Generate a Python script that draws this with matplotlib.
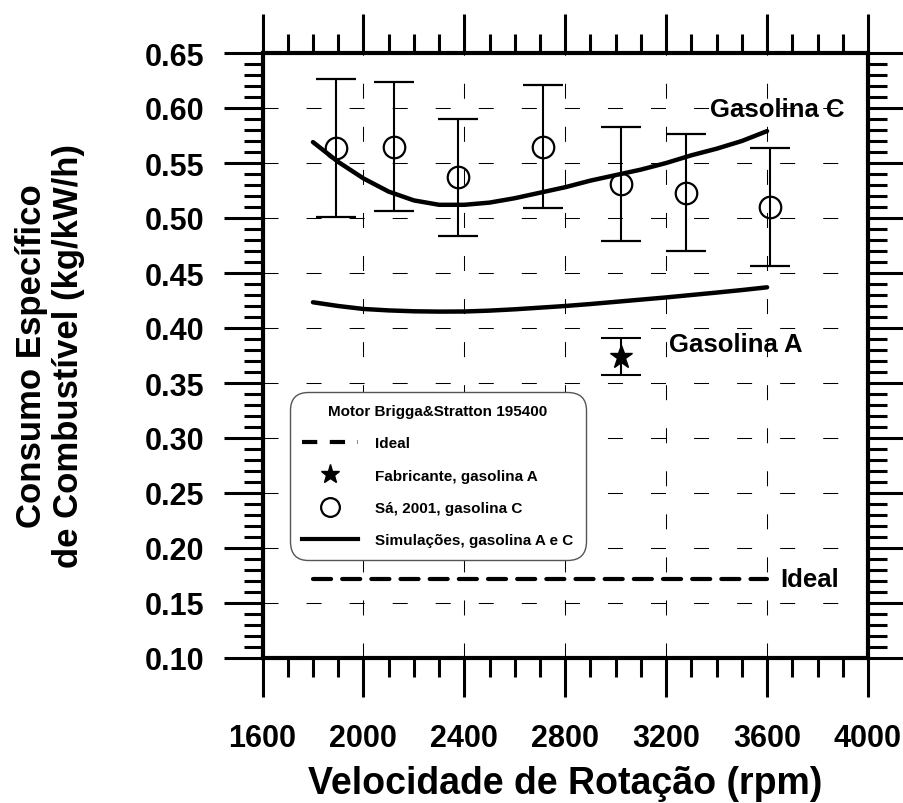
import matplotlib
matplotlib.use("Agg")
import matplotlib.pyplot as plt
from matplotlib.lines import Line2D
from matplotlib.ticker import MultipleLocator, FormatStrFormatter

plt.rcParams['font.family'] = ['Liberation Sans', 'DejaVu Sans']
plt.rcParams['font.weight'] = 'bold'
plt.rcParams['lines.scale_dashes'] = False

# ---------------- data ----------------
sim_rpm = [1800, 1900, 2000, 2100, 2200, 2300, 2400, 2500, 2600, 2700,
           2800, 2900, 3000, 3100, 3200, 3300, 3400, 3500, 3600]
sim_gas_c = [0.569, 0.551, 0.536, 0.524, 0.516, 0.512, 0.512, 0.514, 0.518, 0.523,
             0.528, 0.534, 0.539, 0.544, 0.550, 0.557, 0.563, 0.570, 0.579]
sim_gas_a = [0.4234, 0.4200, 0.4173, 0.4160, 0.4152, 0.4149, 0.4150, 0.4158, 0.4170, 0.4185,
             0.4200, 0.4218, 0.4238, 0.4258, 0.4278, 0.4300, 0.4322, 0.4345, 0.4370]

sa_rpm = [1890, 2120, 2375, 2710, 3020, 3280, 3610]
sa_val = [0.564, 0.565, 0.537, 0.565, 0.531, 0.523, 0.510]
sa_upper = [0.626, 0.624, 0.590, 0.621, 0.583, 0.576, 0.564]
sa_lower = [0.501, 0.506, 0.484, 0.509, 0.479, 0.470, 0.456]

fab_rpm = [3020]
fab_val = [0.374]
fab_upper = [0.391]
fab_lower = [0.357]

ideal_rpm = [1800, 3600]
ideal_val = [0.172, 0.172]

x_ticks = [1600, 2000, 2400, 2800, 3200, 3600, 4000]
y_ticks = [0.10, 0.15, 0.20, 0.25, 0.30, 0.35, 0.40, 0.45, 0.50, 0.55, 0.60, 0.65]

legend_title = "Motor Brigga&Stratton 195400"
legend_labels = ["Ideal", "Fabricante, gasolina A", "Sá, 2001, gasolina C",
                 "Simulações, gasolina A e C"]
xlabel = "Velocidade de Rotação (rpm)"
ylabel = "Consumo Específico\nde Combustível (kg/kW/h)"

# ---------------- figure ----------------
W, H = 904, 804
fig = plt.figure(figsize=(W / 100, H / 100), dpi=100)
ax = fig.add_axes([262.5 / W, (H - 659) / H, 605.5 / W, 605 / H])

ax.set_xlim(1600, 4000)
ax.set_ylim(0.10, 0.65)

# grid
ax.set_xticks(x_ticks)
ax.set_yticks(y_ticks)
ax.grid(True, which='major', color='black', linewidth=0.75,
        linestyle=(0, (10.8, 20.2)))
ax.set_axisbelow(True)

# simulations
ax.plot(sim_rpm, sim_gas_c, color='black', lw=3.2, solid_capstyle='round', zorder=3)
ax.plot(sim_rpm, sim_gas_a, color='black', lw=3.2, solid_capstyle='round', zorder=3)

# ideal
ax.plot(ideal_rpm, ideal_val, color='black', lw=3.0,
        linestyle=(0, (13, 8)), dash_capstyle='round', zorder=3)

# Sá 2001
sa_err = [[v - l for v, l in zip(sa_val, sa_lower)],
          [u - v for v, u in zip(sa_val, sa_upper)]]
ax.errorbar(sa_rpm, sa_val, yerr=sa_err, fmt='o', mfc='none', mec='black',
            mew=1.6, ms=15.5, ecolor='black', elinewidth=1.5, capsize=14.5,
            capthick=1.5, zorder=4)

# Fabricante
fab_err = [[v - l for v, l in zip(fab_val, fab_lower)],
           [u - v for v, u in zip(fab_val, fab_upper)]]
ax.errorbar(fab_rpm, fab_val, yerr=fab_err, fmt='*', color='black', ms=17,
            ecolor='black', elinewidth=1.5, capsize=14.5, capthick=1.5, zorder=4)

# curve labels
ax.text(3641, 0.5927, "Gasolina C", fontsize=18.5, fontweight='bold',
        ha='center', va='baseline', zorder=5)
ax.text(3477, 0.379, "Gasolina A", fontsize=18.5, fontweight='bold',
        ha='center', va='baseline', zorder=5)
ax.text(3767, 0.1655, "Ideal", fontsize=18.5, fontweight='bold',
        ha='center', va='baseline', zorder=5)

# ticks
ax.xaxis.set_minor_locator(MultipleLocator(100))
ax.yaxis.set_minor_locator(MultipleLocator(0.01))
ax.yaxis.set_major_formatter(FormatStrFormatter('%.2f'))
ax.tick_params(which='major', direction='out', length=28, width=2.2,
               top=True, right=True, labelsize=22, color='black')
ax.tick_params(which='minor', direction='out', length=14, width=2.2,
               top=True, right=True, color='black')
ax.tick_params(axis='x', which='major', pad=19)
ax.tick_params(axis='y', which='major', pad=14)
for lab in ax.get_xticklabels() + ax.get_yticklabels():
    lab.set_fontweight('bold')
for sp in ax.spines.values():
    sp.set_linewidth(3)

# axis labels
ax.set_xlabel(xlabel, fontsize=27, fontweight='bold')
ax.xaxis.set_label_coords(0.5, (659 - 766) / 605)
ax.set_ylabel(ylabel, fontsize=25, fontweight='bold', linespacing=1.15)
ax.yaxis.set_label_coords((85 - 262.5) / 605.5, 0.5)

# legend
handles = [
    Line2D([], [], color='black', lw=3.0, linestyle=(0, (11, 9))),
    Line2D([], [], color='black', marker='*', ms=14, linestyle='none'),
    Line2D([], [], color='black', marker='o', ms=13.5, mfc='none', mew=1.6,
           linestyle='none'),
    Line2D([], [], color='black', lw=3.0),
]
leg = ax.legend(handles, legend_labels, title=legend_title,
                loc='upper left', bbox_to_anchor=(0.045, 0.44),
                borderaxespad=0, fontsize=11, title_fontsize=11,
                borderpad=0.8, labelspacing=1.2, handlelength=3.7,
                handletextpad=1.1, fancybox=True, framealpha=1,
                edgecolor='#555555')
leg.get_title().set_fontweight('bold')
for t in leg.get_texts():
    t.set_fontweight('bold')
frame = leg.get_frame()
frame.set_linewidth(1.0)
frame.set_boxstyle('round', pad=0, rounding_size=1.2)
leg.set_zorder(6)

fig.savefig("out.png", dpi=100)
